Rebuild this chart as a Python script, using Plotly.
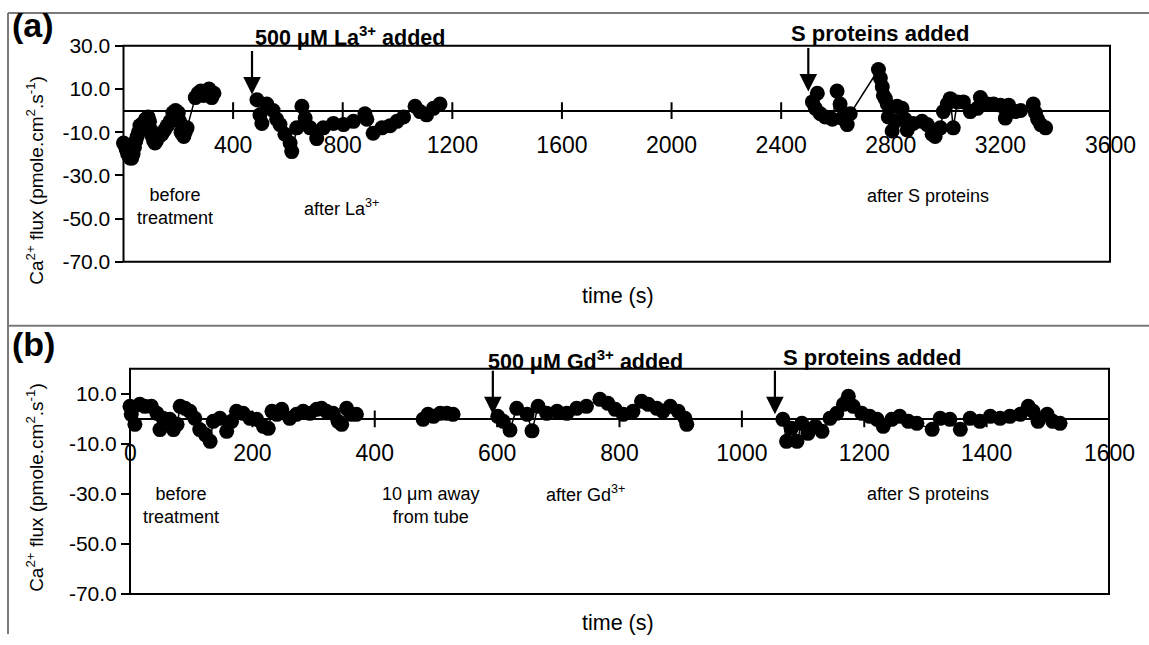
import plotly.graph_objects as go

W, H = 1149, 645
FONT = "Liberation Sans, Arial, Helvetica, sans-serif"

# ---------------- Panel (a) data ----------------
a_before_t = [0, 5, 10, 15, 20, 25, 30, 35, 40, 45, 50, 55, 60, 70, 80, 90, 95, 100, 105, 110,
              115, 120, 130, 140, 150, 160, 170, 180, 190, 200, 205, 210, 215, 220, 225, 232,
              262, 272, 282, 292, 302, 312, 322, 330]
a_before_f = [-15, -16, -18, -20, -21, -22, -22, -20, -17, -14, -12, -10, -7, -6, -4, -3, -5, -9, -12, -14,
              -15, -14, -12, -11, -9, -7, -5, -1, 0, -1, -5, -10, -11, -12, -10, -8,
              6, 8, 9, 7, 9, 10, 6, 8]

a_la_t = [487, 498, 505, 523, 546, 559, 571, 589, 608, 614, 632, 651, 663, 681, 705, 729, 766,
          803, 839, 881, 888, 911, 943, 973, 998, 1022, 1064, 1082, 1106, 1131, 1155]
a_la_f = [5, -2, -6, 3, 0, -4, -6.5, -11, -15, -19, -8, 2, -3.5, -8, -13, -8, -6,
          -6.5, -5, -1.5, -4, -10.5, -8, -7, -5, -3, 2, -0.5, -2, 1, 3]

a_s_t = [2514, 2525, 2532, 2543, 2561, 2587, 2604, 2615, 2622, 2641, 2652, 2755, 2762, 2769, 2773,
         2780, 2787, 2791, 2805, 2816, 2823, 2841, 2852, 2860, 2882, 2914, 2933, 2951, 2962, 2981,
         2992, 3006, 3017, 3028, 3043, 3065, 3090, 3116, 3127, 3153, 3175, 3200, 3218, 3230, 3255,
         3274, 3320, 3328, 3336, 3347, 3365]
a_s_f = [4, 1, 8, -1.5, -3, -4, 9, 3, -3.5, -6.5, -1.5, 19, 15, 11, 7,
         5.5, 3, -3, -9.5, -5, 2, 1, -4, -9, -6, -5, -6.5, -11, -12, -8,
         -0.5, 3, 5.5, -8, 4, 4, -0.5, 1, 6, 3, 3, 2.5, -3.5, 2.5, -0.5,
         0, 3, -1, -4, -6.5, -8]

# ---------------- Panel (b) data ----------------
b_before_t = [0, 2, 8, 16, 24, 35, 44, 49, 54, 65, 71, 77, 82, 90, 98, 106, 114, 123, 131, 136,
              147, 158, 166, 174, 185, 196, 207, 218, 226, 232, 240, 248, 261, 272, 283, 294, 305,
              313, 321, 332, 340, 346, 354, 362, 370]
b_before_f = [5, 1.8, -2.2, 5.8, 5, 5, 2.2, -4.3, 0.2, -0.2, -4.3, -2.2, 5, 4.2, 3, 0.2, -4.3, -6.3, -9, -1,
              0.2, -5, -1, 3, 2.2, 0.2, -0.2, -3, -3.8, 3, 1.8, 3.8, 0.2, 1.8, 3, 2.2, 3.8,
              4.2, 3, 2.2, -1, -2.2, 4.2, 1.8, 1.8]

b_away_t = [479, 487, 496, 507, 518, 528]
b_away_f = [-0.2, 1.8, 1, 2.2, 2.2, 1.8]

b_gd_t = [601, 610, 621, 632, 649, 657, 667, 681, 698, 714, 730, 746, 768, 781, 793, 806, 822,
          836, 847, 861, 871, 883, 896, 907, 910]
b_gd_f = [1, -1, -4.5, 4.2, 1.8, -4.8, 5, 2.2, 3, 2.2, 4.2, 5, 7.8, 6.2, 3.8, 1.8, 3,
          7, 5.8, 4.2, 3, 5, 3, 0.2, -2.2]

b_s_t = [1067, 1073, 1081, 1090, 1098, 1108, 1120, 1131, 1144, 1155, 1166, 1174, 1182, 1196, 1209,
         1221, 1231, 1245, 1258, 1272, 1286, 1311, 1324, 1340, 1357, 1373, 1389, 1406, 1422, 1438,
         1455, 1468, 1476, 1484, 1499, 1508, 1520]
b_s_f = [-0.2, -9, -3.8, -9, -1.8, -5.8, -3, -5, 0.2, 2.2, 5.8, 9, 5, 2.2, 1,
         -0.2, -3, -0.2, 1, -1, -1.8, -4.2, 0.2, -0.2, -4.2, 0.2, -1, 1, 0.2, 1,
         1.8, 5, 3, -1, 1.8, -1, -1.8]

# axis tick definitions
a_xticks = [400, 800, 1200, 1600, 2000, 2400, 2800, 3200, 3600]
a_xticklabels = ["400", "800", "1200", "1600", "2000", "2400", "2800", "3200", "3600"]
a_yticks = [-70, -50, -30, -10, 10, 30]
a_yticklabels = ["-70.0", "-50.0", "-30.0", "-10.0", "10.0", "30.0"]
b_xticks = [0, 200, 400, 600, 800, 1000, 1200, 1400, 1600]
b_xticklabels = ["0", "200", "400", "600", "800", "1000", "1200", "1400", "1600"]
b_yticks = [-70, -50, -30, -10, 10]
b_yticklabels = ["-70.0", "-50.0", "-30.0", "-10.0", "10.0"]
a_yrange = [-70, 30]
b_yrange = [-70, 20]

# event markers
a_events = [(469, 7.4, "500 μM La<sup>3+</sup> added"), (2499, 8.8, "S proteins added")]
b_events = [(593, 1.8, "500 μM Gd<sup>3+</sup> added"), (1054, 1.8, "S proteins added")]

# ---------------- layout geometry (target pixels, mapped to paper) ----------------
SX, OX = 1.0, 0.0
SY, OY = 0.964, 11.3

def px_x(p):
    return ((p - OX) / SX) / W

def px_y(p):
    return 1 - ((p - OY) / SY) / H

a_dom_x = [px_x(123.5), px_x(1110)]
a_dom_y = [px_y(261), px_y(45)]
b_dom_x = [px_x(130), px_x(1109)]
b_dom_y = [px_y(593), px_y(368)]

def zero_pos(dom, rng):
    return dom[0] + (dom[1] - dom[0]) * (0 - rng[0]) / (rng[1] - rng[0])

fig = go.Figure()

def seg(t, f, xa, ya):
    fig.add_trace(go.Scatter(
        x=t, y=f, xaxis=xa, yaxis=ya, mode="lines+markers",
        line=dict(color="black", width=1.5),
        marker=dict(color="black", size=15),
        showlegend=False, hoverinfo="skip", cliponaxis=False))

def cross_ticks(vals, xa, ya):
    fig.add_trace(go.Scatter(
        x=vals, y=[0] * len(vals), xaxis=xa, yaxis=ya, mode="markers",
        marker=dict(symbol="line-ns-open", size=12, color="black",
                    line=dict(color="black", width=2)),
        showlegend=False, hoverinfo="skip"))

cross_ticks(a_xticks[:-1], "x", "y")
cross_ticks(b_xticks[1:-1], "x2", "y2")

seg(a_before_t, a_before_f, "x", "y")
seg(a_la_t, a_la_f, "x", "y")
seg(a_s_t, a_s_f, "x", "y")
seg(b_before_t, b_before_f, "x2", "y2")
seg(b_away_t, b_away_f, "x2", "y2")
seg(b_gd_t, b_gd_f, "x2", "y2")
seg(b_s_t, b_s_f, "x2", "y2")

XTICK_SIZE = 23
xcommon = dict(showgrid=False, zeroline=False, showline=True, linecolor="black", linewidth=2,
               ticks="outside", ticklen=14, tickcolor="rgba(0,0,0,0)",
               tickfont=dict(family=FONT, size=XTICK_SIZE, color="black"), layer="below traces",
               anchor="free", tickmode="array")
ycommon = dict(showgrid=False, zeroline=False, showline=False, ticks="outside", ticklen=8,
               tickwidth=2, tickcolor="black", tickmode="array",
               tickfont=dict(family=FONT, size=21, color="black"))

# interior tick labels through the axis; the end labels (at the frame edges) as annotations
fig.update_layout(
    width=W, height=H, margin=dict(l=0, r=0, t=0, b=0),
    paper_bgcolor="white", plot_bgcolor="white",
    font=dict(family=FONT, color="black"),
    xaxis=dict(domain=a_dom_x, range=[0, 3600], position=zero_pos(a_dom_y, a_yrange),
               tickvals=a_xticks[:-1], ticktext=a_xticklabels[:-1], **xcommon),
    yaxis=dict(domain=a_dom_y, range=a_yrange, anchor="x",
               tickvals=a_yticks, ticktext=a_yticklabels, **ycommon),
    xaxis2=dict(domain=b_dom_x, range=[0, 1600], position=zero_pos(b_dom_y, b_yrange),
                tickvals=b_xticks[1:-1], ticktext=b_xticklabels[1:-1], **xcommon),
    yaxis2=dict(domain=b_dom_y, range=b_yrange, anchor="x2",
                tickvals=b_yticks, ticktext=b_yticklabels, **ycommon),
)

shapes = []
# plot boxes
for xr, yr in (("x", "y"), ("x2", "y2")):
    shapes.append(dict(type="rect", xref=xr + " domain", yref=yr + " domain",
                       x0=0, x1=1, y0=0, y1=1, line=dict(color="black", width=2),
                       layer="above"))
# gray panel frames (kept inside the page)
GRAY = dict(color="#7a7a7a", width=2)
top_line = 1 - 1 / H
shapes.append(dict(type="line", xref="paper", yref="paper", x0=px_x(8), x1=px_x(8),
                   y0=0, y1=top_line, line=GRAY))
shapes.append(dict(type="line", xref="paper", yref="paper", x0=px_x(8), x1=1,
                   y0=top_line, y1=top_line, line=GRAY))
shapes.append(dict(type="line", xref="paper", yref="paper", x0=px_x(8), x1=1,
                   y0=px_y(325), y1=px_y(325), line=GRAY))
fig.update_layout(shapes=shapes)

ann = []

def ptext(xp, yp, text, size, bold=False, xanchor="center"):
    if bold:
        text = "<b>" + text + "</b>"
    ann.append(dict(xref="paper", yref="paper", x=px_x(xp), y=px_y(yp), text=text,
                    showarrow=False, xanchor=xanchor, yanchor="middle",
                    font=dict(family=FONT, size=size, color="black")))

# end tick labels
for val, lab, xr, yr in [(a_xticks[-1], a_xticklabels[-1], "x", "y"),
                         (b_xticks[0], b_xticklabels[0], "x2", "y2"),
                         (b_xticks[-1], b_xticklabels[-1], "x2", "y2")]:
    ann.append(dict(xref=xr, yref=yr, x=val, y=0, text=lab, showarrow=False,
                    xanchor="center", yanchor="top", yshift=-19,
                    font=dict(family=FONT, size=XTICK_SIZE, color="black")))

# arrows
for (xv, yv, txt), xr, yr in [(e, "x", "y") for e in a_events] + [(e, "x2", "y2") for e in b_events]:
    ann.append(dict(xref=xr, yref=yr, x=xv, y=yv, ax=0, ay=-45, text="",
                    showarrow=True, arrowhead=2, arrowsize=1.6, arrowwidth=2.2,
                    arrowcolor="black"))

# panel letters
ptext(10, 24, "(a)", 34, bold=True, xanchor="left")
ptext(10, 343, "(b)", 34, bold=True, xanchor="left")
# event titles
ptext(350, 35, a_events[0][2], 21.5, bold=True)
ptext(880, 33, a_events[1][2], 22, bold=True)
ptext(585, 359, b_events[0][2], 21.5, bold=True)
ptext(872, 357, b_events[1][2], 22, bold=True)
# phase labels
ptext(175, 206, "before<br>treatment", 18)
ptext(341, 207, "after La<sup>3+</sup>", 18)
ptext(928, 195, "after S proteins", 18)
ptext(181, 505, "before<br>treatment", 18)
ptext(430, 505, "10 μm away<br>from tube", 18)
ptext(585, 493, "after Gd<sup>3+</sup>", 18)
ptext(928, 493, "after S proteins", 18)
# axis titles
ptext(618, 295, "time (s)", 21.5)
ptext(618, 622, "time (s)", 21.5)
for yc in (180, 487):
    ann.append(dict(xref="paper", yref="paper", x=px_x(35), y=px_y(yc),
                    text="Ca<sup>2+</sup> flux (pmole.cm<sup>2</sup>.s<sup>-1</sup>)",
                    textangle=-90, showarrow=False, xanchor="center", yanchor="middle",
                    font=dict(family=FONT, size=19, color="black")))

fig.update_layout(annotations=ann)
fig.write_html("out.html", post_script="document.body.style.margin='0';")
